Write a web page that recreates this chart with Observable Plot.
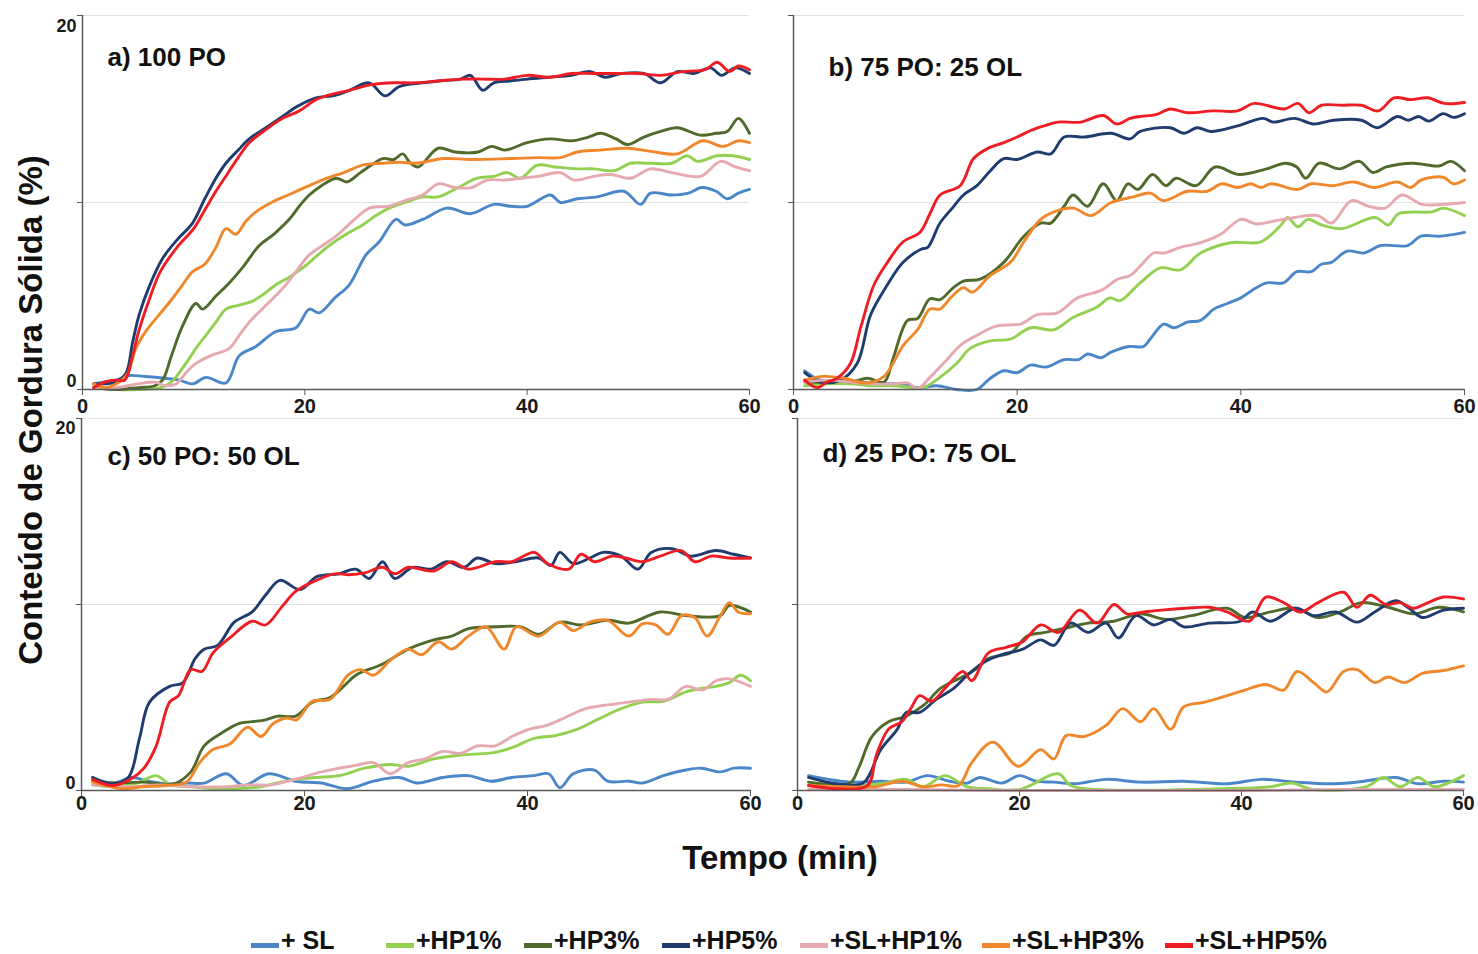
<!DOCTYPE html>
<html><head><meta charset="utf-8">
<script src="https://cdn.jsdelivr.net/npm/d3@7"></script>
<script src="https://cdn.jsdelivr.net/npm/@observablehq/plot@0.6"></script>
<style>
body{margin:0;background:#fff;font-family:"Liberation Sans",Arial,sans-serif;}
#root{position:relative;width:1478px;height:954px;overflow:hidden;}
.abs{position:absolute;white-space:nowrap;color:#111;font-weight:bold;}
.sw{position:absolute;height:5px;}
</style></head><body><div id="root"></div>
<script>
const seriesNames = ["+ SL","+HP1%","+HP3%","+HP5%","+SL+HP1%","+SL+HP3%","+SL+HP5%"];
const seriesColors = ["#4a86c8","#92d050","#4f6a2a","#1f3c6e","#e6a9b0","#f0872a","#ee1d24"];
const panelTitles = ["a) 100 PO","b) 75 PO: 25 OL","c) 50 PO: 50 OL","d) 25 PO: 75 OL"];
const xTicks = [0,20,40,60];
const yTicks = [0,10,20];
const yLabelTicks = [0,20];
const xTitle = "Tempo (min)";
const yTitle = "Conteúdo de Gordura Sólida (%)";

// ---- panel a: 100 PO  ([min, %]) ----
const aSL = [[1,0.3],[2,0.4],[3,0.5],[4.2,0.75],[5.5,0.7],[7.5,0.6],[8.7,0.5],[9.9,0.3],[11.1,0.65],[12.9,0.35],[14.1,1.8],[15.6,2.3],[17.4,3.1],[19.2,3.3],[20.4,4.3],[21.3,4.1],[22.7,4.9],[24,5.6],[25.5,7.2],[26.7,7.9],[28.2,9.1],[29,8.8],[30.6,9.1],[32.8,9.7],[34.9,9.4],[37,9.9],[38.5,9.8],[40,9.8],[42.1,10.4],[43,10.0],[44.5,10.2],[46.3,10.3],[48.7,10.6],[50.2,9.9],[51.1,10.5],[53,10.4],[54.5,10.5],[55.7,10.8],[57,10.6],[58,10.2],[59,10.5],[60,10.7]];
const aHP1 = [[1,0.1],[3,0.0],[5,0.0],[7,0.1],[8,0.4],[9.3,1.4],[10.2,2.2],[11.1,2.9],[12,3.6],[12.9,4.3],[14,4.5],[15.2,4.7],[16.3,5.1],[17.4,5.6],[18.6,6.0],[19.8,6.5],[21,7.1],[22.2,7.7],[23.7,8.3],[25.2,8.8],[26.4,9.3],[27.6,9.7],[29,10.0],[30.6,10.3],[32,10.3],[33.8,10.8],[35.5,11.3],[37,11.4],[38.2,11.6],[39.4,11.3],[40.9,12.0],[42.5,11.9],[44.5,11.8],[46,11.8],[47.8,11.7],[49.3,12.1],[51,12.1],[53,12.1],[54.4,12.5],[55.3,12.2],[57.1,12.5],[58.5,12.5],[60,12.3]];
const aHP3 = [[1,0.1],[3,0.0],[5,0.1],[6.5,0.2],[7.2,0.5],[8,1.8],[9,3.4],[10.2,4.6],[10.8,4.3],[12,5.0],[13.2,5.7],[14.5,6.6],[15.9,7.7],[17.2,8.3],[18.6,9.1],[19.5,9.8],[20.4,10.4],[21.5,10.9],[22.8,11.3],[23.8,11.1],[25,11.6],[26,12.0],[27,12.35],[28,12.3],[28.8,12.6],[29.5,12.1],[30.2,11.9],[32,12.9],[33.5,12.7],[35.6,12.7],[36.8,13.0],[38,12.8],[40,13.2],[42.1,13.4],[44,13.3],[45.5,13.5],[46.6,13.7],[48,13.4],[49,13.1],[50.5,13.5],[52,13.8],[53.5,14.0],[55.6,13.6],[57,13.7],[58,13.8],[59,14.5],[60,13.7]];
const aHP5 = [[1,0.3],[2,0.3],[3,0.4],[3.9,0.85],[4.5,2.5],[5.1,4.0],[6,5.5],[7.2,7.0],[8.5,8.0],[9.9,8.9],[11,10.2],[12,11.3],[12.9,12.1],[14,12.8],[15,13.4],[16.5,14.0],[18,14.6],[19.2,15.1],[21,15.6],[22.5,15.7],[24,16.0],[25.8,16.4],[27.2,15.7],[28.5,16.2],[30.6,16.4],[32,16.5],[34,16.6],[34.9,16.8],[36,16.0],[37,16.4],[38.5,16.5],[40,16.6],[42,16.7],[44,16.8],[45.7,17.0],[47,16.7],[48.5,16.9],[50.5,16.9],[52,16.4],[53.5,17.0],[55,16.9],[56.5,17.2],[57.5,16.8],[58.7,17.2],[60,16.9]];
const aSLHP1 = [[1,0.1],[3,0.1],[5,0.3],[6.5,0.4],[7.5,0.2],[8.4,0.3],[9.3,0.9],[10.2,1.4],[11.5,1.8],[13.2,2.2],[14.1,2.9],[15,3.6],[16.5,4.5],[18,5.4],[19.2,6.3],[20.4,7.2],[21.6,7.7],[22.8,8.2],[24.3,9.0],[25.8,9.7],[27.6,9.8],[29,10.1],[30.6,10.4],[32,11.0],[33.5,10.8],[35,10.8],[36.4,11.2],[38,11.2],[39.4,11.3],[41,11.4],[43,11.6],[44.2,11.2],[46,11.4],[47.5,11.5],[49.3,11.3],[51.1,11.8],[53,11.6],[55.6,11.4],[57.4,12.2],[58.7,11.9],[60,11.7]];
const aSLHP3 = [[1,0.3],[2,0.1],[3,0.3],[4,0.8],[4.8,2.2],[5.8,3.2],[6.9,4.0],[8,4.8],[9,5.6],[9.9,6.3],[11,6.7],[12,7.6],[12.9,8.6],[13.8,8.3],[14.7,9.0],[15.6,9.5],[17,10.0],[18.5,10.4],[20.4,10.9],[22,11.3],[23.5,11.6],[25.2,12.0],[27,12.1],[28.5,12.15],[30,12.1],[32.5,12.35],[35,12.3],[38.5,12.35],[41,12.4],[43,12.4],[44.5,12.7],[46.5,12.8],[49,12.9],[51,12.75],[53.5,12.6],[55.8,13.3],[57.6,13.0],[59,13.3],[60,13.2]];
const aSLHP5 = [[1,0.1],[2,0.4],[3,0.5],[3.8,0.5],[4.5,1.8],[5.1,3.2],[6,4.8],[7,6.3],[8.5,7.6],[10,8.6],[11,9.6],[12,10.6],[13,11.5],[14,12.4],[15,13.2],[16.5,13.9],[18,14.5],[19.5,14.9],[21,15.5],[22.5,15.8],[24,16.0],[26,16.3],[28,16.4],[30,16.4],[32,16.5],[34,16.6],[36,16.6],[38,16.6],[40,16.8],[42,16.7],[44,16.9],[46,16.9],[48,16.9],[50,16.9],[52,16.8],[54,17.0],[56,17.1],[57.1,17.5],[58.2,17.0],[59,17.3],[60,17.1]];

// ---- panel b: 75 PO : 25 OL ----
const bSL = [[1,1.0],[2.4,0.5],[4,0.4],[5.7,0.4],[8,0.3],[9.8,0.3],[11.1,0.1],[12.8,0.2],[14.6,0.0],[16.4,0.0],[17.6,0.6],[18.8,1.0],[20,0.9],[21.2,1.3],[22.6,1.2],[24.2,1.6],[25.5,1.6],[26.3,1.9],[27.5,1.7],[28.4,2.0],[30,2.3],[31.3,2.3],[31.9,2.7],[33.1,3.5],[34,3.3],[35.2,3.6],[36.4,3.7],[37.6,4.3],[38.8,4.6],[40,4.9],[41,5.3],[42.3,5.7],[43.8,5.7],[45,6.3],[46.3,6.3],[47.2,6.7],[48.1,6.8],[49.5,7.4],[51,7.3],[52.5,7.7],[54.9,7.7],[56.1,8.2],[57.9,8.2],[60,8.4]];
const bHP1 = [[1,0.2],[3,0.3],[5,0.3],[7,0.2],[9,0.2],[10.5,0.1],[11.6,0.1],[13.1,0.65],[14.6,1.4],[15.8,2.2],[17.6,2.6],[19.4,2.7],[21.2,3.3],[23.3,3.2],[25,3.85],[27.1,4.4],[28.3,4.9],[29.2,4.75],[31,5.7],[32.8,6.5],[34.6,6.4],[36.4,7.3],[39.1,7.85],[41.8,7.9],[43.6,8.8],[44.2,9.2],[45.1,8.7],[46,9.1],[47.2,8.8],[49,8.6],[52,9.2],[53.2,8.8],[54.1,9.4],[57.1,9.5],[58.1,9.7],[60,9.3]];
const bHP3 = [[1,0.4],[2.5,0.4],[3.9,0.5],[5.2,0.4],[6.6,0.6],[8.1,0.4],[8.9,1.65],[10.2,3.7],[11.1,3.8],[12.2,4.85],[13.1,4.8],[14.2,5.4],[15.2,5.8],[16.7,5.9],[18.8,6.8],[20.6,8.2],[22.1,8.9],[23,8.9],[24.2,9.8],[25,10.4],[26.3,9.8],[27.7,11.0],[28.9,10.1],[29.9,11.0],[30.8,10.7],[32.1,11.5],[33.3,10.9],[34.2,11.3],[36,10.9],[37.7,11.9],[39.8,11.5],[42.3,11.8],[44,12.1],[45,11.9],[45.8,11.3],[47,12.1],[48.8,11.8],[50.6,12.2],[51.8,11.6],[53,11.9],[55.4,12.1],[57.7,11.95],[58.8,12.2],[60,11.7]];
const bHP5 = [[1,0.9],[2.4,0.4],[4.2,0.5],[5.7,1.4],[6.9,4.0],[8.4,5.6],[9.8,6.8],[11.4,7.5],[12,7.6],[13.1,8.9],[14.2,9.7],[15.2,10.4],[16.4,10.9],[17.6,11.7],[18.8,12.35],[20,12.3],[21.8,12.7],[23,12.6],[24.2,13.5],[26,13.5],[28.4,13.7],[30.1,13.4],[31,13.8],[33.7,14.0],[34.9,13.7],[36.1,14.0],[37.3,13.8],[39.7,14.1],[42,14.5],[42.9,14.3],[44.8,14.5],[46.5,14.2],[48.3,14.4],[50.8,14.4],[52.2,14.0],[54,14.6],[55,14.4],[55.9,14.6],[56.8,14.35],[58.1,14.75],[59,14.55],[60,14.75]];
const bSLHP1 = [[1,0.4],[3,0.5],[5,0.4],[7,0.3],[9,0.3],[10.2,0.35],[11.1,0.05],[12.2,0.65],[13.8,1.65],[15,2.4],[16.4,2.9],[18.2,3.4],[20.3,3.5],[21.8,4.0],[23.6,4.1],[25.4,4.9],[27.5,5.3],[29,5.9],[30.1,6.1],[31,6.6],[32.2,7.3],[33.1,7.3],[34.6,7.6],[36.4,7.85],[38.2,8.3],[40,9.1],[41.4,8.85],[42.9,9.0],[44.8,9.2],[46.9,9.3],[48.1,8.9],[49.9,10.1],[51.4,9.8],[52.9,9.7],[54.4,10.4],[56.2,9.9],[58.1,9.9],[60,10.0]];
const bSLHP3 = [[1,0.5],[2.7,0.7],[4.5,0.6],[6.6,0.35],[8.1,0.7],[9.8,2.35],[11.1,3.2],[12.2,4.3],[13.1,4.3],[14.2,5.0],[15.2,5.45],[16,5.2],[17.6,6.1],[19.4,6.8],[20.6,7.9],[22.1,9.1],[23.3,9.5],[25,9.7],[26.6,9.3],[28.4,10.0],[30.4,10.3],[31.9,10.5],[33.1,10.1],[35.2,10.6],[37,10.6],[38.3,11.0],[39.7,10.8],[40.9,11.0],[41.8,10.8],[42.7,11.0],[45.1,10.7],[46.3,11.0],[48.2,10.9],[50.1,11.1],[51.9,10.8],[54,11.1],[55.2,10.8],[56.1,11.2],[58.1,11.35],[59,11.0],[60,11.2]];
const bSLHP5 = [[1,0.5],[2.1,0.1],[3,0.4],[3.9,0.6],[5.1,1.4],[6,3.3],[7.2,5.6],[8.4,6.8],[9.8,7.9],[11.3,8.4],[12.2,9.4],[13.1,10.4],[14.9,10.9],[16.1,12.35],[17.4,12.9],[18.8,13.2],[20,13.5],[21.2,13.85],[22.4,14.1],[23.6,14.3],[25.7,14.3],[27.7,14.65],[28.9,14.2],[30.1,14.5],[31,14.6],[32.4,14.7],[33.7,15.0],[35.2,14.8],[37.5,14.9],[39.7,14.9],[41.2,15.3],[43.9,15.0],[45.1,15.3],[46.1,14.8],[47.2,15.2],[49,15.2],[50.8,15.2],[52.3,14.9],[53.7,15.6],[55.2,15.5],[56.7,15.6],[58.2,15.3],[60,15.35]];

// ---- panel c: 50 PO : 50 OL ----
const cSL = [[1,0.7],[2.8,0.4],[4.5,0.7],[6,0.5],[7.5,0.36],[9.5,0.4],[11,0.4],[13,0.9],[14.5,0.27],[16.8,0.9],[19.2,0.5],[21.5,0.4],[23.8,0.1],[26.2,0.5],[28.5,0.7],[30.1,0.4],[32.4,0.7],[34.7,0.8],[36.7,0.5],[38.6,0.7],[40.6,0.8],[41.9,0.9],[42.9,0.15],[44.1,0.9],[46,1.1],[47.2,0.5],[49.1,0.5],[50.3,0.4],[52.2,0.8],[54.2,1.1],[55.6,1.2],[57.3,1.0],[58.5,1.2],[60,1.2]];
const cHP1 = [[1,0.3],[3,0.2],[5,0.4],[6.7,0.8],[8,0.3],[10,0.2],[12,0.1],[14,0.1],[16,0.2],[17.5,0.4],[19.2,0.6],[21,0.7],[23.1,0.8],[25.4,1.2],[27.7,1.4],[29.3,1.3],[31.6,1.7],[34,1.9],[37.1,2.05],[38.6,2.3],[40.6,2.8],[42.5,2.95],[44.5,3.3],[46.4,3.85],[48.4,4.4],[50.3,4.75],[52.2,4.8],[54.2,5.3],[55.7,5.5],[56.9,5.6],[58.1,5.8],[59.1,6.2],[60,5.9]];
const cHP3 = [[1,0.5],[3,0.4],[5.5,0.45],[8.3,0.36],[9.8,1.0],[11,2.4],[12.6,3.1],[14.1,3.6],[15.3,3.7],[16.5,3.8],[17.6,4.0],[19.2,4.0],[20.7,4.75],[22.3,5.0],[23.5,5.6],[24.6,6.2],[27,6.8],[29.3,7.6],[31.6,8.1],[33.2,8.3],[34.7,8.7],[37.1,8.8],[39.4,8.8],[41,8.4],[42.9,9.05],[44.8,8.9],[47.2,9.15],[49.1,9.0],[51.9,9.6],[54.2,9.4],[57.3,9.4],[58.1,9.95],[60,9.6]];
const cHP5 = [[1,0.7],[2.8,0.36],[4.2,0.7],[5.2,2.8],[6.1,4.75],[7.9,5.6],[9.1,5.8],[10.2,7.1],[11,7.6],[12.2,7.8],[13.7,9.05],[15.3,9.6],[16.5,10.5],[17.8,11.3],[19.6,10.8],[21.1,11.5],[23.1,11.65],[24.6,11.9],[25.8,11.4],[27,12.3],[28.1,11.4],[29.7,12.0],[31.3,11.9],[32.8,12.3],[34.3,12.0],[35.5,12.5],[37.1,12.2],[38.9,12.3],[41,12.5],[42.1,12.1],[42.9,12.8],[44.1,12.2],[45.6,12.5],[46.8,12.8],[48.4,12.6],[49.9,11.9],[51.1,12.8],[53,13.0],[54.6,12.6],[56.9,12.9],[58.5,12.7],[60,12.5]];
const cSLHP1 = [[1,0.3],[4,0.2],[7,0.3],[10,0.2],[13,0.2],[15,0.3],[17,0.3],[19.2,0.6],[21.5,1.0],[23.1,1.2],[24.6,1.35],[26.2,1.5],[27.7,0.9],[29.3,1.5],[30.8,1.7],[32.4,2.1],[34,2.0],[35.5,2.4],[37.1,2.4],[38.6,2.9],[40.2,3.3],[41.7,3.5],[43.3,3.9],[45.2,4.4],[47.2,4.6],[49.1,4.75],[51.1,4.9],[52.6,4.9],[54.2,5.6],[55.7,5.4],[56.9,5.9],[58.1,6.0],[60,5.6]];
const cSLHP3 = [[1,0.45],[3.6,0.1],[5.5,0.2],[7.5,0.27],[9.4,0.45],[10.6,1.5],[11.8,2.2],[13.3,2.5],[14.9,3.4],[16.1,2.9],[17.2,3.6],[18.4,3.9],[19.3,3.8],[20.7,4.8],[22.3,4.9],[23.9,6.2],[25,6.5],[26.2,6.2],[27.7,7.0],[29.3,7.6],[30.5,7.3],[32,8.0],[33.2,7.6],[34.7,8.3],[36.3,8.8],[37.9,7.6],[39,8.8],[41,8.3],[42.9,9.05],[44.1,8.6],[45.6,9.05],[47.2,9.15],[49.1,8.3],[50.3,8.96],[51.5,8.9],[52.6,8.4],[53.8,9.4],[55,9.3],[56.1,8.3],[57.3,9.4],[58.1,10.1],[58.9,9.6],[60,9.5]];
const cSLHP5 = [[1,0.6],[2.8,0.27],[4.4,0.6],[5.6,1.2],[6.7,2.4],[7.9,4.75],[8.7,5.1],[9.8,6.5],[10.8,6.4],[11.8,7.4],[13.3,8.2],[15.3,9.1],[16.5,8.9],[18,9.9],[19.2,10.7],[20.7,11.2],[22.7,11.65],[24,11.6],[25.4,11.7],[27,12.0],[28.1,11.65],[29.3,12.0],[31.6,11.8],[33.2,12.3],[34.7,11.9],[37.1,12.3],[38.6,12.3],[40.6,12.8],[41.8,12.2],[43.7,11.9],[44.8,12.7],[46,12.3],[47.6,12.6],[48.8,12.5],[50.3,12.3],[51.9,12.6],[53.8,12.9],[55,12.3],[56.5,12.6],[58.1,12.5],[60,12.5]];

// ---- panel d: 25 PO : 75 OL ----
const dSL = [[1,0.8],[2.8,0.6],[4.7,0.45],[7.5,0.5],[9.8,0.45],[11.7,0.8],[13.7,0.5],[15.3,0.4],[16.4,0.7],[18.4,0.4],[20,0.8],[21.5,0.5],[23.1,0.45],[25,0.36],[27.8,0.6],[30.9,0.45],[34.8,0.5],[38.7,0.36],[41.8,0.6],[44.9,0.45],[48,0.36],[50.4,0.45],[53.9,0.7],[55.9,0.36],[58.2,0.5],[60,0.45]];
const dHP1 = [[1,0.45],[3.5,0.27],[7.5,0.36],[9.8,0.6],[11.3,0.2],[13.3,0.8],[15.3,0.2],[17.2,0.1],[20,0.05],[23.5,0.9],[24.6,0.27],[27,0.05],[35,0.05],[42.6,0.2],[44.5,0.4],[46.5,0.05],[51.2,0.2],[52.8,0.7],[54.3,0.2],[55.9,0.7],[57.4,0.2],[60,0.8]];
const dHP3 = [[1,0.45],[4.7,0.4],[5.5,1.2],[6.7,2.9],[8.2,3.7],[9.8,4.0],[11.4,4.6],[12.9,5.5],[14.5,6.0],[16,6.5],[17.2,7.1],[19.2,7.4],[20.7,8.3],[22.3,8.5],[23.9,8.7],[26.2,9.0],[28.5,9.1],[30.9,9.5],[33.2,9.2],[35.5,9.4],[38.7,9.8],[40.3,9.3],[42.6,9.6],[44.9,9.8],[46.9,9.3],[48.9,9.6],[50.8,10.1],[53.2,9.85],[55.5,9.5],[57.8,9.85],[60,9.6]];
const dHP5 = [[1,0.7],[3.5,0.36],[5.9,0.4],[7.5,2.2],[9,3.3],[9.8,4.2],[11,4.2],[12.5,4.9],[14.1,5.5],[15.3,6.2],[16.8,6.9],[18.4,7.3],[20.3,7.6],[21.9,8.1],[23.1,7.8],[24.6,9.0],[26.2,8.5],[27.8,9.0],[28.9,8.2],[30.5,9.4],[32.1,8.9],[33.6,9.2],[34.8,8.8],[37.1,9.0],[39.9,9.1],[41,9.6],[42.6,9.1],[44.9,9.8],[46.5,9.4],[48.5,9.6],[50.4,9.05],[52,9.6],[53.9,10.2],[55.1,9.8],[56.3,9.3],[58.2,9.7],[60,9.8]];
const dSLHP1 = [[1,0.05],[10,0.05],[20,0.0],[30,0.0],[40,0.0],[50,0.05],[60,0.05]];
const dSLHP3 = [[1,0.27],[4,0.2],[7,0.2],[9.4,0.5],[11.3,0.2],[13,0.3],[14.5,0.27],[15.7,1.5],[17.6,2.6],[19.9,1.3],[21.9,2.2],[23.1,1.7],[24.2,2.95],[25.8,2.9],[27.8,3.5],[29.3,4.4],[30.9,3.7],[32.1,4.4],[33.6,3.3],[34.8,4.5],[36.7,4.75],[38.7,5.1],[40.3,5.4],[42.2,5.7],[43.8,5.4],[45,6.4],[46.5,5.8],[47.7,5.3],[49.2,6.4],[50.4,6.5],[52,5.8],[53.2,6.1],[54.7,5.8],[56.3,6.3],[58.2,6.45],[60,6.7]];
const dSLHP5 = [[1,0.27],[3.5,0.1],[6.3,0.27],[7.1,1.9],[8.2,3.3],[9.4,3.7],[10.2,4.4],[11,5.1],[12.1,4.8],[13.3,5.5],[14.9,6.4],[15.7,5.9],[17.2,7.4],[18.8,7.7],[20.3,8.0],[21.9,8.9],[23.5,8.5],[25.4,9.7],[27,9.0],[28.5,10.0],[29.7,9.5],[31.2,9.6],[32.8,9.7],[35,9.8],[37.1,9.85],[38.7,9.6],[40.7,9.1],[42.2,10.4],[43.8,10.1],[45.3,9.6],[46.9,10.1],[49.2,10.66],[50.4,9.85],[51.6,10.5],[53,10.0],[54.3,10.1],[55.5,9.8],[56.8,10.1],[58.2,10.4],[60,10.3]];

const panelSeries = [
  [aSL,aHP1,aHP3,aHP5,aSLHP1,aSLHP3,aSLHP5],
  [bSL,bHP1,bHP3,bHP5,bSLHP1,bSLHP3,bSLHP5],
  [cSL,cHP1,cHP3,cHP5,cSLHP1,cSLHP3,cSLHP5],
  [dSL,dHP1,dHP3,dHP5,dSLHP1,dSLHP3,dSLHP5]
];

// layout (pixels)
const layout = [
  {left:0,   top:0,   width:760, height:420, mL:82, mR:11, mT:15, mB:31, yLabels:true,  tdx:25, tdy:42, xPad:3, y0dy:-8, y20dy:11},
  {left:720, top:0,   width:758, height:420, mL:73, mR:14, mT:15, mB:31, yLabels:false, tdx:35, tdy:52, xPad:3, y0dy:-8, y20dy:11},
  {left:0,   top:400, width:760, height:420, mL:81, mR:10, mT:18, mB:30, yLabels:true,  tdx:26, tdy:38, xPad:-1, y0dy:-7, y20dy:10},
  {left:720, top:400, width:758, height:420, mL:77, mR:15, mT:18, mB:30, yLabels:false, tdx:25, tdy:35, xPad:-1, y0dy:-7, y20dy:10}
];

const root = document.getElementById("root");
const FONT = '"Liberation Sans", Arial, sans-serif';
const AXIS = "#5a5a5a";

panelSeries.forEach((series, p) => {
  const L = layout[p];
  const rows = [];
  series.forEach((arr, i) => arr.forEach(([t, v]) => rows.push({t, v, s: seriesNames[i]})));
  const marks = [
    Plot.ruleY([10, 20], {stroke: "#e2e2e2", strokeWidth: 1.2}),
    Plot.lineY(rows, {x: "t", y: "v", z: "s", stroke: "s", curve: "catmull-rom", strokeWidth: 2.9, strokeLinejoin: "round"}),
    Plot.ruleY([0], {stroke: AXIS, strokeWidth: 1.5}),
    Plot.ruleX([0], {stroke: AXIS, strokeWidth: 1.5}),
    Plot.axisX(xTicks, {tickSize: 6, tickPadding: L.xPad, fontSize: 20, fontWeight: "bold", stroke: AXIS, fill: "#1a1a1a", label: null}),
    Plot.axisY(yTicks, {tickSize: 5, tickFormat: () => "", stroke: AXIS, label: null}),
    Plot.text([panelTitles[p]], {text: d => d, frameAnchor: "top-left", lineAnchor: "middle", dx: L.tdx, dy: L.tdy, textAnchor: "start", fontSize: 26, fontWeight: "bold", fill: "#111"})
  ];
  if (L.yLabels) {
    marks.push(Plot.axisY([yLabelTicks[0]], {tickSize: 0, tickPadding: 6, dy: L.y0dy, fontSize: 18, fontWeight: "bold", fill: "#1a1a1a", label: null}));
    marks.push(Plot.axisY([yLabelTicks[1]], {tickSize: 0, tickPadding: 6, dy: L.y20dy, fontSize: 18, fontWeight: "bold", fill: "#1a1a1a", label: null}));
  }
  const svg = Plot.plot({
    width: L.width, height: L.height,
    marginLeft: L.mL, marginRight: L.mR, marginTop: L.mT, marginBottom: L.mB,
    x: {domain: [0, 60], axis: null},
    y: {domain: [0, 20], axis: null},
    color: {domain: seriesNames, range: seriesColors},
    style: {background: "transparent", fontFamily: FONT, overflow: "visible"},
    marks
  });
  svg.style.position = "absolute";
  svg.style.left = L.left + "px";
  svg.style.top = L.top + "px";
  svg.style.maxWidth = "none";
  root.appendChild(svg);
});

// axis titles
const yt = document.createElement("div");
yt.className = "abs";
yt.textContent = yTitle;
yt.style.cssText += "left:31px;top:410px;font-size:33px;transform:translate(-50%,-50%) rotate(-90deg);";
root.appendChild(yt);
const xt = document.createElement("div");
xt.className = "abs";
xt.textContent = xTitle;
xt.style.cssText += "left:780px;top:858px;font-size:33px;transform:translate(-50%,-50%);";
root.appendChild(xt);

// legend
const legendX = [251, 386, 524, 662, 800, 982, 1165];
seriesNames.forEach((name, i) => {
  const sw = document.createElement("div");
  sw.className = "sw";
  sw.style.left = legendX[i] + "px";
  sw.style.top = "943px";
  sw.style.width = "28px";
  sw.style.background = seriesColors[i];
  root.appendChild(sw);
  const tx = document.createElement("div");
  tx.className = "abs";
  tx.textContent = name;
  tx.style.left = (legendX[i] + 30) + "px";
  tx.style.top = "928px";
  tx.style.fontSize = "25px";
  tx.style.lineHeight = "25px";
  root.appendChild(tx);
});
</script></body></html>
